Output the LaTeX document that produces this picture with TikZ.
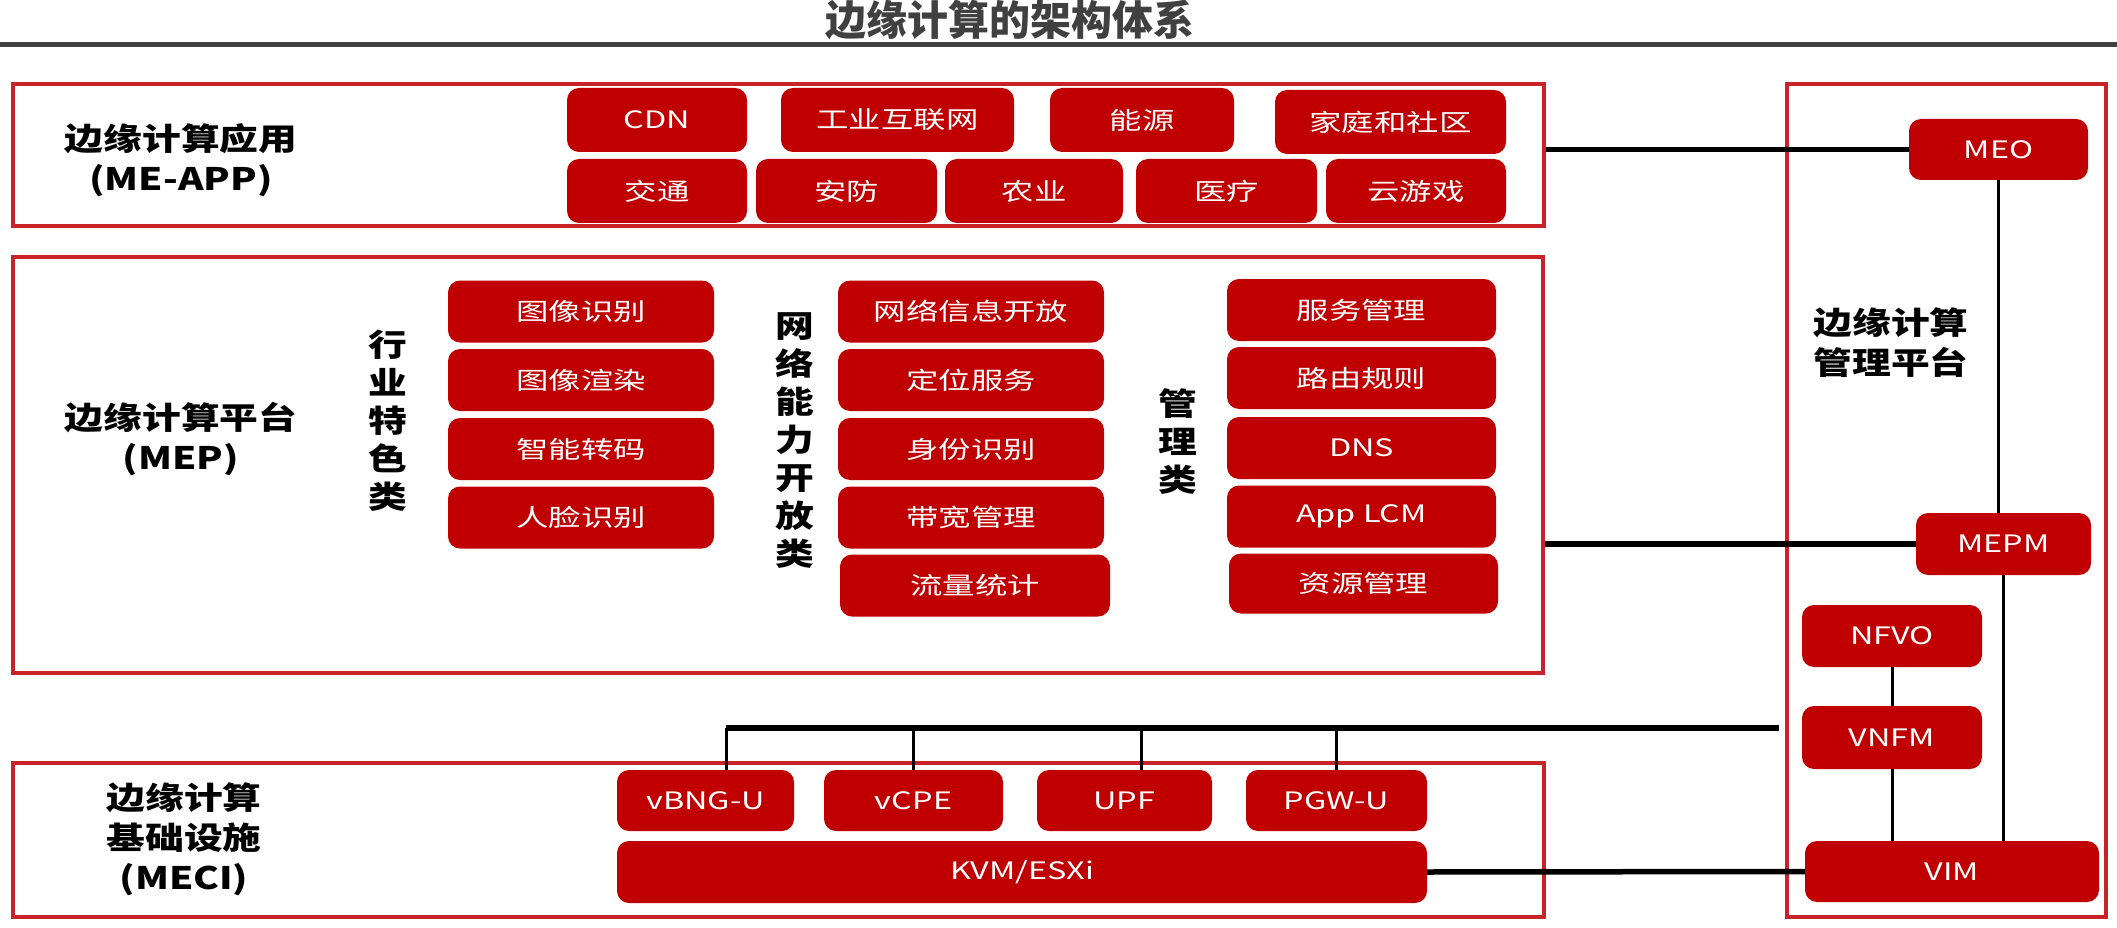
\documentclass[tikz,border=0pt]{standalone}
\usepackage{fontspec}
\usepackage{tikz}
\newfontfamily\boxfont[FakeStretch=1.35]{Noto Sans CJK SC}
\newfontfamily\labelfont[FakeStretch=1.25]{Noto Sans CJK SC}
\newfontfamily\titlefont{Noto Sans CJK SC}
\definecolor{boxred}{HTML}{C00000}
\definecolor{framered}{HTML}{C9232A}
\definecolor{titlegray}{HTML}{404040}

\begin{document}
\begin{tikzpicture}[x=1pt, y=-1pt,
    redbox/.style={fill=boxred, rounded corners=12pt, text=white, inner sep=0pt,
        font=\boxfont\fontsize{24pt}{28pt}\selectfont},
    layerframe/.style={draw=framered, line width=4.5pt, inner sep=0pt},
    lbl/.style={font=\labelfont\bfseries\fontsize{31pt}{40pt}\selectfont, align=center},
    vlbl/.style={font=\labelfont\bfseries\fontsize{31pt}{38pt}\selectfont, align=center},
    thickline/.style={line width=5.5pt},
    thinline/.style={line width=3pt}]
    \useasboundingbox (0,0) rectangle (2117,928);

    % title and rule
    \node [font=\titlefont\bfseries\fontsize{41pt}{41pt}\selectfont, text=titlegray] (title) at (1010,20) {边缘计算的架构体系};
    \draw [color=titlegray, line width=5pt] (0,45) -- (2117,45);

    % layers
    \node [layerframe, minimum width=1531pt, minimum height=142pt] (app) at (778.5,155) {};
    \node [layerframe, minimum width=1530pt, minimum height=416pt] (mep) at (778,465) {};
    \node [layerframe, minimum width=1531pt, minimum height=154pt] (meci) at (778.5,840) {};
    \node [layerframe, minimum width=319pt, minimum height=833pt] (mgmt) at (1946.5,500.5) {};

    \node [lbl] (applbl) at (181,160) {边缘计算应用\\(ME-APP)};
    \node [lbl] (meplbl) at (181,439) {边缘计算平台\\(MEP)};
    \node [lbl] (mecilbl) at (184,839) {边缘计算\\基础设施\\(MECI)};
    \node [lbl] (mgmtlbl) at (1891,343) {边缘计算\\管理平台};
    \node [vlbl] (indlbl) at (388,421) {行\\业\\特\\色\\类};
    \node [vlbl] (netlbl) at (795,441) {网\\络\\能\\力\\开\\放\\类};
    \node [vlbl] (mgrlbl) at (1178,442) {管\\理\\类};

    % ME-APP
    \foreach \n/\x/\w/\t in {cdn/657/180/CDN, iiot/897.5/233/工业互联网, energy/1142/184/能源}
        \node [redbox, minimum width=\w pt, minimum height=64pt] (\n) at (\x,120) {\t};
    \node [redbox, minimum width=231pt, minimum height=64pt] (home) at (1390.5,122) {家庭和社区};
    \foreach \n/\x/\w/\t in {traffic/657/180/交通, security/846.5/181/安防, farm/1034/178/农业,
        medical/1226.5/181/医疗, cloudgame/1416/180/云游戏}
        \node [redbox, minimum width=\w pt, minimum height=64pt] (\n) at (\x,191) {\t};

    % MEP
    \foreach \n/\y/\t in {imgrec/311.5/图像识别, render/380/图像渲染, transcode/449/智能转码, face/517.5/人脸识别}
        \node [redbox, minimum width=266pt, minimum height=62pt] (\n) at (581,\y) {\t};
    \foreach \n/\y/\t in {netinfo/311.5/网络信息开放, locate/380/定位服务, ident/449/身份识别, bandwidth/517.5/带宽管理}
        \node [redbox, minimum width=266pt, minimum height=62pt] (\n) at (971,\y) {\t};
    \node [redbox, minimum width=270pt, minimum height=62pt] (flow) at (975,585.5) {流量统计};
    \foreach \n/\y/\t in {service/310/服务管理, route/378/路由规则, dns/448/DNS, lcm/516.5/App LCM}
        \node [redbox, minimum width=269pt, minimum height=62pt] (\n) at (1361.5,\y) {\t};
    \node [redbox, minimum width=269pt, minimum height=60pt] (resource) at (1363.5,583.5) {资源管理};

    % MECI
    \foreach \n/\x/\w/\t in {vbng/705.5/177/vBNG-U, vcpe/913.5/179/vCPE, upf/1124.5/175/UPF, pgw/1336.5/181/PGW-U}
        \node [redbox, minimum width=\w pt, minimum height=61pt] (\n) at (\x,800.5) {\t};
    \node [redbox, minimum width=810pt, minimum height=62pt] (kvm) at (1022,872) {KVM/ESXi};

    % management
    \node [redbox, minimum width=179pt, minimum height=61pt] (meo) at (1998.5,149.5) {MEO};
    \node [redbox, minimum width=175pt, minimum height=62pt] (mepm) at (2003.5,544) {MEPM};
    \node [redbox, minimum width=180pt, minimum height=62pt] (nfvo) at (1892,636) {NFVO};
    \node [redbox, minimum width=180pt, minimum height=63pt] (vnfm) at (1892,737.5) {VNFM};
    \node [redbox, minimum width=294pt, minimum height=61pt] (vim) at (1952,871.5) {VIM};

    % links
    \draw [thickline] (meo.west -| app.east) -- (meo.west);
    \draw [thickline] (mepm.west -| mep.east) -- (mepm.west);
    \draw [thickline] (kvm.east) -- (vim.west);
    \draw [thinline] (meo.south) -- (meo.south |- mepm.north);
    \draw [thinline] (mepm.south) -- (mepm.south |- vim.north);
    \draw [thinline] (nfvo) -- (vnfm);
    \draw [thinline] (vnfm.south) -- (vnfm.south |- vim.north);

    \coordinate (busend) at (1779,728);
    \coordinate (vbngtap) at ([xshift=20.5pt]vbng.north);
    \coordinate (upftap) at ([xshift=16.5pt]upf.north);
    \draw [thickline] (busend) -- (vbngtap |- busend);
    \draw [thinline] (vbngtap) -- (vbngtap |- busend);
    \draw [thinline] (vcpe.north) -- (vcpe.north |- busend);
    \draw [thinline] (upftap) -- (upftap |- busend);
    \draw [thinline] (pgw.north) -- (pgw.north |- busend);
\end{tikzpicture}
\end{document}
